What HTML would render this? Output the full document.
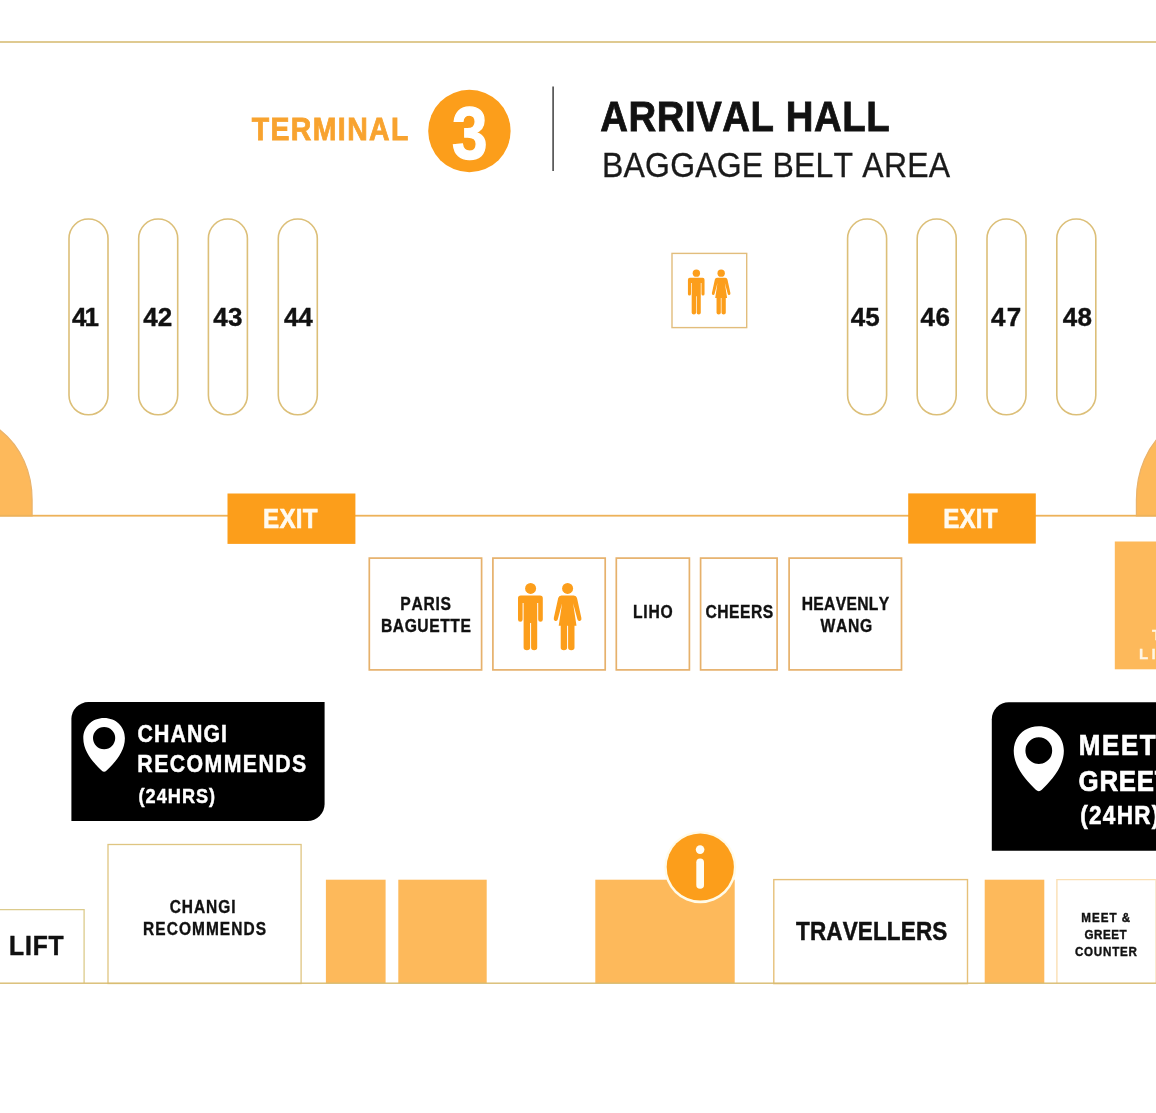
<!DOCTYPE html>
<html>
<head>
<meta charset="utf-8">
<title>Terminal 3 Arrival Hall</title>
<style>
html,body{margin:0;padding:0;background:#fff;}
body{width:1156px;height:1113px;overflow:hidden;font-family:"Liberation Sans",sans-serif;}
svg{display:block;will-change:transform;}
text{font-family:"Liberation Sans",sans-serif;font-kerning:none;white-space:pre;}
</style>
</head>
<body>
<svg width="1156" height="1113" viewBox="0 0 1156 1113">
<rect x="0" y="0" width="1156" height="1113" fill="#ffffff"/>
<defs>
<g id="people">
  <circle cx="19.8" cy="8.4" r="5.5"/>
  <path d="M10 15.4 H29.2 Q32 15.4 32 18.2 V39.4 Q32 41.7 29.7 41.7 Q27.4 41.7 27.4 39.4 V23 H26.4 V67.6 Q26.4 70.3 23.4 70.3 Q20.3 70.3 20.3 67.6 V43 H19.3 V67.6 Q19.3 70.3 16.1 70.3 Q12.8 70.3 12.8 67.6 V23 H11.8 V39.4 Q11.8 41.7 9.5 41.7 Q7.2 41.7 7.2 39.4 V18.2 Q7.2 15.4 10 15.4 Z"/>
  <circle cx="56.8" cy="8.4" r="5.5"/>
  <path d="M50.6 15.4 H63 Q65.6 15.4 66.2 18 L70.6 38 Q71.1 40.4 69.1 40.9 Q67.1 41.4 66.6 39.2 L62.3 23.3 L65.7 45.7 H63.7 V67.6 Q63.7 70.3 60.5 70.3 Q57.3 70.3 57.3 67.6 V45.7 H56.3 V67.6 Q56.3 70.3 53.1 70.3 Q49.9 70.3 49.9 67.6 V45.7 H47.9 L51.3 23.3 L47 39.2 Q46.5 41.4 44.5 40.9 Q42.5 40.4 43 38 L47.4 18 Q48 15.4 50.6 15.4 Z"/>
</g>
<path id="pin" fill-rule="evenodd" fill="#ffffff" d="M104.1 717.9 C116 717.9 124.9 726.6 124.9 738.2 C124.9 752.3 113.4 763.8 106.6 770.6 Q104.1 773 101.6 770.6 C94.8 763.8 83.3 752.3 83.3 738.2 C83.3 726.6 92.2 717.9 104.1 717.9 Z M104.1 727 A11.1 11.1 0 1 0 104.1 749.2 A11.1 11.1 0 1 0 104.1 727 Z"/>
</defs>

<!-- top rule -->
<rect x="0" y="41.1" width="1156" height="1.8" fill="#dcc585"/>

<!-- header -->
<text transform="translate(251.68,140.40) scale(0.9,1)" font-size="31.6" font-weight="bold" letter-spacing="1.567" fill="#f8a32f" stroke="#f8a32f" stroke-width="0.8">TERMINAL</text>
<circle cx="469.4" cy="131" r="41.2" fill="#fc9e1b"/>
<text x="452.1" y="159.4" font-size="74.5" font-weight="bold" fill="#ffffff" stroke="#ffffff" stroke-width="1.4" textLength="35.5" lengthAdjust="spacingAndGlyphs">3</text>
<rect x="552.3" y="86.5" width="1.6" height="84.5" fill="#4a4a4a"/>
<text transform="translate(600.25,131.20) scale(0.9,1)" font-size="42.6" font-weight="bold" letter-spacing="0.633" fill="#111111" stroke="#111111" stroke-width="0.8">ARRIVAL HALL</text>
<text transform="translate(602.03,177.30) scale(0.93,1)" font-size="34.4" letter-spacing="0.220" fill="#1a1a1a" stroke="#1a1a1a" stroke-width="0.3">BAGGAGE BELT AREA</text>
<!-- baggage belts -->
<g fill="none" stroke="#dcbf78" stroke-width="1.6">
<rect x="69.0" y="219" width="39" height="195.8" rx="19.5"/>
<rect x="138.7" y="219" width="39" height="195.8" rx="19.5"/>
<rect x="208.4" y="219" width="39" height="195.8" rx="19.5"/>
<rect x="278.3" y="219" width="39" height="195.8" rx="19.5"/>
<rect x="847.6" y="219" width="39" height="195.8" rx="19.5"/>
<rect x="917.2" y="219" width="39" height="195.8" rx="19.5"/>
<rect x="987.0" y="219" width="39" height="195.8" rx="19.5"/>
<rect x="1056.8" y="219" width="39" height="195.8" rx="19.5"/>
</g>
<text transform="translate(71.91,326.30) scale(1.0,1)" font-size="26" font-weight="bold" letter-spacing="-1.803" fill="#111111" stroke="#111111" stroke-width="0.4">41</text>
<text transform="translate(143.21,326.30) scale(1.0,1)" font-size="26" font-weight="bold" letter-spacing="0.115" fill="#111111" stroke="#111111" stroke-width="0.4">42</text>
<text transform="translate(213.21,326.30) scale(1.0,1)" font-size="26" font-weight="bold" letter-spacing="0.313" fill="#111111" stroke="#111111" stroke-width="0.4">43</text>
<text transform="translate(284.01,326.30) scale(1.0,1)" font-size="26" font-weight="bold" letter-spacing="-0.287" fill="#111111" stroke="#111111" stroke-width="0.4">44</text>
<text transform="translate(850.81,326.30) scale(1.0,1)" font-size="26" font-weight="bold" letter-spacing="-0.003" fill="#111111" stroke="#111111" stroke-width="0.4">45</text>
<text transform="translate(920.61,326.30) scale(1.0,1)" font-size="26" font-weight="bold" letter-spacing="0.513" fill="#111111" stroke="#111111" stroke-width="0.4">46</text>
<text transform="translate(991.11,326.30) scale(1.0,1)" font-size="26" font-weight="bold" letter-spacing="1.216" fill="#111111" stroke="#111111" stroke-width="0.4">47</text>
<text transform="translate(1062.81,326.30) scale(1.0,1)" font-size="26" font-weight="bold" letter-spacing="0.173" fill="#111111" stroke="#111111" stroke-width="0.4">48</text>
<!-- small restroom box (top) -->
<rect x="672" y="253.4" width="74.7" height="74.2" fill="none" stroke="#e2bd7c" stroke-width="1.4"/>
<g fill="#fc9e1b" transform="translate(683.1,267.5) scale(0.67)"><use href="#people"/></g>

<!-- side shapes -->
<g fill="#fdb95b" stroke="#e9b36c" stroke-width="1.2">
<path d="M-10 422 L0 430 C21.4 446.8 32.1 472.8 32.1 500 V516 H-10 Z"/>
<path d="M1178.5 420 L1168.5 428 C1147.1 444.6 1136.4 471.6 1136.4 500 V516 H1178.5 Z"/>
</g>

<!-- mid rule and exits -->
<rect x="0" y="514.8" width="1156" height="1.8" fill="#edb25a"/>
<rect x="227.5" y="493.5" width="127.9" height="50.4" fill="#fc9e1b"/>
<rect x="908.2" y="493.4" width="127.6" height="50.2" fill="#fc9e1b"/>
<text transform="translate(263.08,528.20) scale(0.88,1)" font-size="27.5" font-weight="bold" letter-spacing="0.262" fill="#fffaf0" stroke="#fffaf0" stroke-width="0.6">EXIT</text>
<text transform="translate(943.18,528.40) scale(0.88,1)" font-size="27.5" font-weight="bold" letter-spacing="0.186" fill="#fffaf0" stroke="#fffaf0" stroke-width="0.6">EXIT</text>
<!-- shop boxes -->
<g fill="none" stroke="#e6b16c" stroke-width="1.7">
<rect x="369.3" y="558.1" width="112.3" height="111.8"/>
<rect x="492.9" y="558.1" width="112.3" height="111.8"/>
<rect x="616.3" y="558.1" width="73.1" height="111.8"/>
<rect x="700.6" y="558.1" width="76.5" height="111.8"/>
<rect x="789.1" y="558.1" width="112.4" height="111.8"/>
</g>
<text transform="translate(400.33,609.70) scale(0.88,1)" font-size="17.8" font-weight="bold" letter-spacing="0.806" fill="#111111" stroke="#111111" stroke-width="0.35">PARIS</text>
<text transform="translate(380.93,631.60) scale(0.88,1)" font-size="17.8" font-weight="bold" letter-spacing="0.626" fill="#111111" stroke="#111111" stroke-width="0.35">BAGUETTE</text>
<text transform="translate(632.93,618.00) scale(0.88,1)" font-size="17.8" font-weight="bold" letter-spacing="0.924" fill="#111111" stroke="#111111" stroke-width="0.35">LIHO</text>
<text transform="translate(705.43,618.00) scale(0.88,1)" font-size="17.8" font-weight="bold" letter-spacing="0.597" fill="#111111" stroke="#111111" stroke-width="0.35">CHEERS</text>
<text transform="translate(801.73,609.70) scale(0.88,1)" font-size="17.8" font-weight="bold" letter-spacing="0.350" fill="#111111" stroke="#111111" stroke-width="0.35">HEAVENLY</text>
<text transform="translate(820.56,631.60) scale(0.88,1)" font-size="17.8" font-weight="bold" letter-spacing="0.812" fill="#111111" stroke="#111111" stroke-width="0.35">WANG</text>
<g fill="#fc9e1b" transform="translate(510.8,580)"><use href="#people"/></g>
<!-- right light block with clipped text -->
<rect x="1114.8" y="541.5" width="42" height="127.8" fill="#fdb95b"/>
<g font-weight="bold" font-size="15" fill="#fff6e4" stroke="#fff6e4" stroke-width="0.3">
<text x="1151.9" y="639.6">TAXI</text>
<text x="1138.9 1151.6 1159" y="659.1">LIMO</text>
</g>

<!-- callout left -->
<path d="M88.4 702.1 H324.6 V804 A17 17 0 0 1 307.6 821 H71.4 V719.1 A17 17 0 0 1 88.4 702.1 Z" fill="#000000"/>
<use href="#pin"/>
<text transform="translate(137.38,741.60) scale(0.88,1)" font-size="24.2" font-weight="bold" letter-spacing="1.295" fill="#ffffff" stroke="#ffffff" stroke-width="0.5">CHANGI</text>
<text transform="translate(137.33,772.40) scale(0.88,1)" font-size="24.2" font-weight="bold" letter-spacing="1.627" fill="#ffffff" stroke="#ffffff" stroke-width="0.5">RECOMMENDS</text>
<text transform="translate(138.52,802.60) scale(0.88,1)" font-size="20.6" font-weight="bold" letter-spacing="1.164" fill="#ffffff" stroke="#ffffff" stroke-width="0.45">(24HRS)</text>
<!-- callout right -->
<path d="M1008.8 702.2 H1160 V850.7 H991.8 V719.2 A17 17 0 0 1 1008.8 702.2 Z" fill="#000000"/>
<g transform="translate(1038.8,750.3) scale(1.205) translate(-104.1,-737.8)"><use href="#pin"/></g>
<text transform="translate(1078.72,754.50) scale(0.88,1)" font-size="29.4" font-weight="bold" letter-spacing="1.909" fill="#ffffff" stroke="#ffffff" stroke-width="0.7">MEET &amp;</text>
<text transform="translate(1078.59,791.00) scale(0.88,1)" font-size="29.4" font-weight="bold" letter-spacing="0.815" fill="#ffffff" stroke="#ffffff" stroke-width="0.7">GREET</text>
<text transform="translate(1080.28,824.40) scale(0.88,1)" font-size="25.6" font-weight="bold" letter-spacing="1.445" fill="#ffffff" stroke="#ffffff" stroke-width="0.6">(24HR)</text>
<!-- bottom row -->
<g fill="#fdb95b">
<rect x="325.9" y="879.7" width="59.7" height="103.6"/>
<rect x="398.3" y="879.7" width="88.4" height="103.6"/>
<rect x="595.3" y="879.7" width="139.4" height="103.6"/>
<rect x="984.7" y="879.7" width="59.6" height="103.6"/>
</g>
<g fill="none">
<path d="M-2 909.6 H84.1 V983" stroke="#dccb8c" stroke-width="1.3"/>
<rect x="108" y="844.5" width="193.1" height="139" stroke="#dfc581" stroke-width="1.3"/>
<rect x="773.8" y="879.6" width="193.7" height="104" stroke="#e6c079" stroke-width="1.4"/>
<path d="M1160 879.6 H1056.9 V983" stroke="#fadfb4" stroke-width="1.4"/>
<path d="M1155.6 879.6 V983" stroke="#fbe8cb" stroke-width="1"/>
</g>
<rect x="0" y="982.5" width="1156" height="1.4" fill="#d9bc70"/>
<text transform="translate(9.10,955.20) scale(0.9,1)" font-size="27.4" font-weight="bold" letter-spacing="0.953" fill="#111111" stroke="#111111" stroke-width="0.5">LIFT</text>
<text transform="translate(169.74,913.10) scale(0.88,1)" font-size="17.6" font-weight="bold" letter-spacing="1.075" fill="#111111" stroke="#111111" stroke-width="0.35">CHANGI</text>
<text transform="translate(143.04,935.20) scale(0.88,1)" font-size="17.6" font-weight="bold" letter-spacing="1.201" fill="#111111" stroke="#111111" stroke-width="0.35">RECOMMENDS</text>
<text transform="translate(796.00,939.80) scale(0.88,1)" font-size="25.6" font-weight="bold" letter-spacing="0.144" fill="#111111" stroke="#111111" stroke-width="0.5">TRAVELLERS</text>
<text transform="translate(1081.32,922.00) scale(0.9,1)" font-size="12.9" font-weight="bold" letter-spacing="1.129" fill="#111111" stroke="#111111" stroke-width="0.4">MEET &amp;</text>
<text transform="translate(1084.52,938.70) scale(0.9,1)" font-size="12.9" font-weight="bold" letter-spacing="0.613" fill="#111111" stroke="#111111" stroke-width="0.4">GREET</text>
<text transform="translate(1074.92,955.80) scale(0.9,1)" font-size="12.9" font-weight="bold" letter-spacing="0.854" fill="#111111" stroke="#111111" stroke-width="0.4">COUNTER</text>
<!-- info icon -->
<circle cx="700.3" cy="867.2" r="36" fill="#fffbe9"/>
<circle cx="700.3" cy="867" r="33.6" fill="#fc9e1b"/>
<circle cx="700.1" cy="849.6" r="4.3" fill="#fffdf4"/>
<rect x="696.3" y="858.5" width="7.7" height="30.3" rx="3.8" fill="#fffdf4"/>
</svg>
</body>
</html>
